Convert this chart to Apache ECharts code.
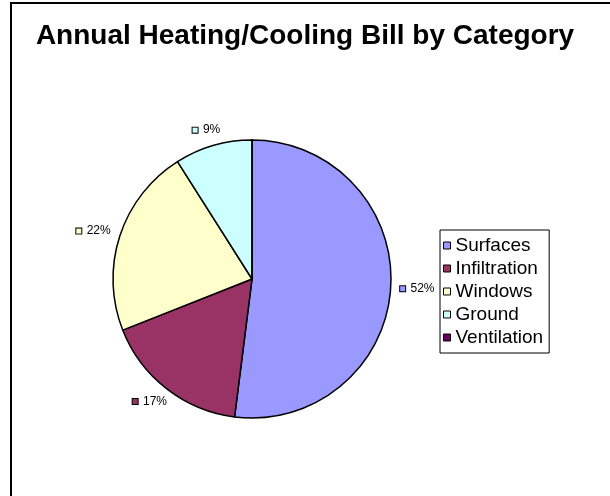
<!DOCTYPE html>
<html>
<head>
<meta charset="utf-8">
<script src="https://cdn.jsdelivr.net/npm/echarts@6/dist/echarts.min.js"></script>
<style>
  html, body { margin: 0; padding: 0; background: #fff; }
  #chart { width: 610px; height: 496px; }
</style>
</head>
<body>
<div id="chart"></div>
<script>
// Share of the annual heating/cooling bill, in percent
const categories = ['Surfaces', 'Infiltration', 'Windows', 'Ground', 'Ventilation'];
const shares = [52, 17, 22, 9, 0];
const colors = ['#9999FF', '#993366', '#FFFFCC', '#CCFFFF', '#660066'];

const font = 'Arial, "Liberation Sans", sans-serif';
const pieCenter = [252, 279];
const pieRadius = 139;

// Small colour keys shown in front of each percentage label
const rich = { t: { fontSize: 12, fontFamily: font, color: '#000', padding: [0, 0, 0, 2] } };
colors.forEach((c, i) => {
  rich['k' + i] = { width: 5, height: 5, backgroundColor: c, borderColor: '#000', borderWidth: 1 };
});

const data = categories.map((name, i) => {
  const item = { name, value: shares[i], itemStyle: { color: colors[i] } };
  if (shares[i] === 0) item.label = { show: false };
  return item;
});

// Push each label outward so the box edge nearest the pie sits on the slice's mid-angle ray
function placeLabel(params) {
  const r = params.labelRect;
  const rightSide = r.x + r.width / 2 > pieCenter[0];
  const ax = rightSide ? r.x : r.x + r.width;
  const ay = r.y + r.height / 2;
  const vx = ax - pieCenter[0], vy = ay - pieCenter[1];
  const len = Math.hypot(vx, vy) || 1;
  return {
    x: ax + (vx / len) * r.width / 2,
    y: ay + (vy / len) * r.height / 2,
    align: 'center',
    verticalAlign: 'middle'
  };
}

const chart = echarts.init(document.getElementById('chart'));
chart.setOption({
  animation: false,
  backgroundColor: '#fff',
  title: {
    text: 'Annual Heating/Cooling Bill by Category',
    left: 'center',
    top: 17,
    textStyle: { fontFamily: font, fontWeight: 'bold', fontSize: 28, color: '#000' }
  },
  graphic: [{
    type: 'rect',
    shape: { x: 11, y: 3, width: 700, height: 600 },
    style: { fill: 'none', stroke: '#000', lineWidth: 2 },
    silent: true
  }],
  legend: {
    orient: 'vertical',
    left: 440,
    top: 230,
    padding: [6, 6, 6, 3],
    borderColor: '#000',
    borderWidth: 1,
    itemWidth: 7,
    itemHeight: 7,
    itemGap: 4,
    icon: 'rect',
    itemStyle: { borderColor: '#000', borderWidth: 1 },
    textStyle: { fontFamily: font, fontSize: 19, color: '#000' },
    data: categories
  },
  series: [{
    type: 'pie',
    center: pieCenter,
    radius: pieRadius,
    startAngle: 90,
    clockwise: true,
    avoidLabelOverlap: false,
    itemStyle: { borderColor: '#000', borderWidth: 1.5 },
    emphasis: { disabled: true },
    label: {
      show: true,
      position: 'outside',
      distanceToLabelLine: 0,
      formatter: p => `{k${p.dataIndex}|}{t| ${Math.round(p.percent)}%}`,
      rich
    },
    labelLine: { show: false, length: 10, length2: 0 },
    labelLayout: placeLabel,
    data
  }]
});
</script>
</body>
</html>
